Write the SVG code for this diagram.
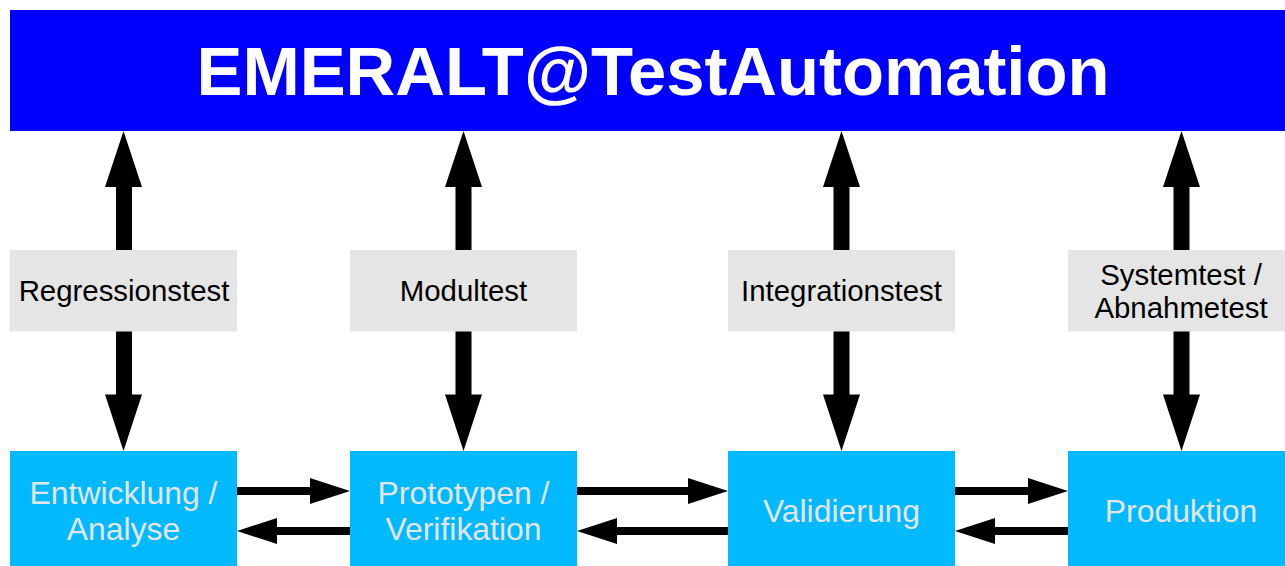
<svg xmlns="http://www.w3.org/2000/svg" width="1285" height="566" viewBox="0 0 1285 566">
<style>
text{font-family:"Liberation Sans",Arial,sans-serif;text-anchor:middle}
.g{fill:#e5e5e5}.c{fill:#00b9ff}
.gt{font-size:29.4px;fill:#000}.ct{font-size:31.9px;fill:#e5e5e5}
.a{fill:#000}
</style>
<rect width="1285" height="566" fill="#fff"/>
<g id="connectors">
<path class="a" d="M123.500 131L142 187H132V250H116V187H105Z"/>
<path class="a" d="M463.500 131L482 187H471.500V250H455.500V187H445Z"/>
<path class="a" d="M841.500 131L860 187H849.500V250H833.500V187H823Z"/>
<path class="a" d="M1181.500 131L1200 187H1189.500V250H1173.500V187H1163Z"/>
<path class="a" d="M123.500 451L142 394.500H132V331H116V394.500H105Z"/>
<path class="a" d="M463.500 451L482 394.500H471.500V331H455.500V394.500H445Z"/>
<path class="a" d="M841.500 451L860 394.500H849.500V331H833.500V394.500H823Z"/>
<path class="a" d="M1181.500 451L1200 394.500H1189.500V331H1173.500V394.500H1163Z"/>
<path class="a" d="M350 491L310 478V487H236V495H310V504Z"/>
<path class="a" d="M237 531L277 518V527H350V535H277V544Z"/>
<path class="a" d="M728 491L688 478V487H577V495H688V504Z"/>
<path class="a" d="M577 531L617 518V527H728V535H617V544Z"/>
<path class="a" d="M1068 491L1028 478V487H955V495H1028V504Z"/>
<path class="a" d="M955 531L995 518V527H1068V535H995V544Z"/>
</g>
<g id="title"><rect x="10" y="10" width="1275" height="121" fill="#0000ff"/><text x="653" y="95" font-size="68.800" font-weight="700" fill="#fff">EMERALT@TestAutomation</text></g>
<g id="regressionstest"><rect class="g" x="9.500" y="250" width="227.500" height="81.500"/><text class="gt" x="124" y="301">Regressionstest</text></g>
<g id="modultest"><rect class="g" x="350" y="250" width="227" height="81.500"/><text class="gt" x="463.500" y="301">Modultest</text></g>
<g id="integrationstest"><rect class="g" x="728" y="250" width="227" height="81.500"/><text class="gt" x="841.500" y="301">Integrationstest</text></g>
<g id="systemtest"><rect class="g" x="1068" y="250" width="217" height="81.500"/><text class="gt" x="1181" y="285">Systemtest /</text><text class="gt" x="1181" y="318">Abnahmetest</text></g>
<g id="entwicklung"><rect class="c" x="10" y="451" width="227" height="115"/><text class="ct" x="123.500" y="504">Entwicklung /</text><text class="ct" x="123.500" y="540">Analyse</text></g>
<g id="prototypen"><rect class="c" x="350" y="451" width="227" height="115"/><text class="ct" x="463.500" y="504">Prototypen /</text><text class="ct" x="463.500" y="540">Verifikation</text></g>
<g id="validierung"><rect class="c" x="728" y="451" width="227" height="115"/><text class="ct" x="841.500" y="522">Validierung</text></g>
<g id="produktion"><rect class="c" x="1068" y="451" width="217" height="115"/><text class="ct" x="1181" y="522">Produktion</text></g>
</svg>
